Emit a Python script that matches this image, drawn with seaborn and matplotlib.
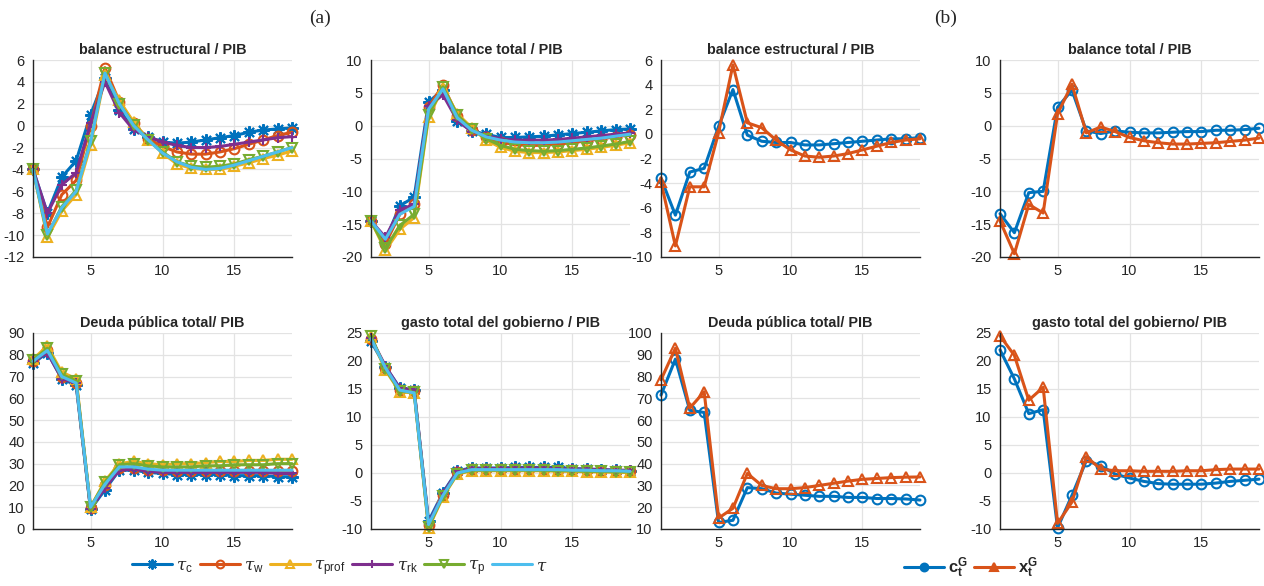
import matplotlib
matplotlib.use("Agg")
import matplotlib.pyplot as plt
import pandas as pd
import seaborn as sns

# ---------------------------------------------------------------- data
periods = list(range(1, 20))

# (a) responses under each tax instrument
be_tc = [-4.0, -8.0, -4.7, -3.2, 1.0, 4.4, 1.4, -0.3, -1.0, -1.5, -1.6, -1.5, -1.3, -1.1, -0.9, -0.6, -0.4, -0.3, -0.2]
be_tw = [-4.0, -9.3, -6.3, -5.0, 0.0, 5.3, 2.2, 0.2, -1.2, -1.9, -2.4, -2.6, -2.6, -2.4, -2.1, -1.7, -1.3, -0.9, -0.6]
be_tprof = [-4.0, -10.2, -7.8, -6.3, -1.8, 4.6, 2.3, 0.3, -1.3, -2.5, -3.5, -3.9, -4.0, -4.0, -3.7, -3.4, -3.0, -2.7, -2.3]
be_trk = [-4.0, -8.0, -5.4, -4.3, 0.2, 4.0, 1.2, -0.4, -1.0, -1.5, -1.8, -2.0, -2.0, -1.9, -1.7, -1.5, -1.3, -1.1, -1.0]
be_tp = [-4.0, -10.0, -7.4, -5.9, -1.4, 4.8, 2.0, 0.1, -1.3, -2.4, -3.3, -3.7, -3.8, -3.7, -3.5, -3.1, -2.8, -2.4, -2.0]
be_t = [-4.0, -9.9, -7.5, -6.0, -1.5, 4.8, 2.0, 0.0, -1.3, -2.5, -3.3, -3.8, -4.0, -3.9, -3.6, -3.2, -2.8, -2.4, -2.0]

bt_tc = [-14.5, -17.5, -12.2, -10.9, 3.6, 5.5, 0.7, -0.8, -1.3, -1.8, -1.8, -1.7, -1.6, -1.4, -1.2, -1.0, -0.8, -0.6, -0.5]
bt_tw = [-14.5, -18.0, -13.5, -12.0, 2.8, 6.2, 1.5, -0.6, -1.8, -2.5, -2.9, -3.0, -3.0, -2.8, -2.6, -2.3, -2.0, -1.7, -1.4]
bt_tprof = [-14.5, -19.0, -15.8, -14.0, 1.3, 5.8, 1.8, -0.3, -2.2, -3.3, -3.9, -4.1, -4.1, -4.0, -3.8, -3.6, -3.3, -3.0, -2.6]
bt_trk = [-14.5, -17.0, -12.8, -12.0, 3.0, 4.7, 0.8, -0.9, -1.5, -2.0, -2.2, -2.2, -2.2, -2.1, -1.9, -1.7, -1.5, -1.3, -1.1]
bt_tp = [-14.5, -18.7, -15.2, -13.5, 1.6, 5.9, 1.6, -0.5, -2.0, -3.0, -3.6, -3.8, -3.9, -3.8, -3.6, -3.4, -3.1, -2.8, -2.4]
bt_t = [-14.5, -17.3, -13.5, -12.3, 2.5, 5.6, 1.2, -0.7, -1.7, -2.2, -2.5, -2.6, -2.6, -2.5, -2.3, -2.1, -1.9, -1.6, -1.3]

dp_tc = [76.0, 81.0, 69.0, 66.0, 9.0, 18.0, 27.0, 27.0, 26.0, 25.5, 25.0, 25.0, 25.0, 25.0, 24.5, 24.5, 24.5, 24.0, 24.0]
dp_tw = [77.0, 82.0, 70.0, 67.0, 9.5, 20.0, 28.0, 28.0, 27.0, 27.0, 26.5, 26.5, 26.5, 26.5, 26.5, 26.5, 26.5, 26.5, 26.5]
dp_tprof = [78.0, 84.0, 72.0, 69.0, 10.0, 22.0, 30.0, 31.0, 30.0, 29.5, 30.0, 30.0, 30.5, 31.0, 31.0, 31.5, 31.5, 32.0, 32.0]
dp_trk = [77.0, 81.0, 69.0, 67.0, 9.0, 19.0, 27.0, 27.5, 26.5, 26.0, 26.0, 26.0, 26.0, 26.0, 26.0, 26.0, 26.0, 25.5, 25.5]
dp_tp = [77.5, 83.0, 71.0, 68.0, 10.0, 21.5, 29.5, 30.0, 29.0, 28.5, 28.5, 28.5, 29.0, 29.0, 29.5, 29.5, 29.5, 30.0, 30.0]
dp_t = [77.0, 82.0, 70.0, 67.0, 10.0, 20.5, 28.5, 28.5, 27.5, 27.0, 27.0, 27.0, 27.0, 27.0, 27.0, 27.0, 27.0, 27.0, 27.0]

gt_tc = [23.5, 19.0, 15.2, 14.8, -8.6, -3.5, 0.4, 0.9, 0.9, 0.9, 1.0, 1.0, 1.0, 1.0, 0.8, 0.7, 0.6, 0.5, 0.4]
gt_tw = [24.0, 18.8, 14.9, 14.6, -9.3, -3.9, 0.2, 0.7, 0.7, 0.7, 0.7, 0.7, 0.7, 0.6, 0.5, 0.5, 0.4, 0.4, 0.3]
gt_tprof = [24.3, 18.4, 14.5, 14.3, -9.8, -4.3, -0.2, 0.4, 0.4, 0.4, 0.4, 0.4, 0.4, 0.3, 0.3, 0.2, 0.2, 0.1, 0.1]
gt_trk = [24.1, 19.1, 15.1, 14.9, -9.0, -3.7, 0.3, 0.8, 0.8, 0.8, 0.9, 0.9, 0.9, 0.8, 0.7, 0.7, 0.6, 0.5, 0.5]
gt_tp = [24.4, 18.6, 14.6, 14.4, -9.6, -4.1, -0.1, 0.5, 0.5, 0.5, 0.5, 0.5, 0.5, 0.4, 0.4, 0.3, 0.3, 0.2, 0.2]
gt_t = [24.0, 18.8, 14.8, 14.3, -9.2, -4.0, 0.0, 0.6, 0.6, 0.6, 0.6, 0.6, 0.6, 0.6, 0.5, 0.5, 0.4, 0.4, 0.3]

# (b) responses under government consumption and investment
be_c = [-3.6, -6.6, -3.1, -2.8, 0.6, 3.6, -0.1, -0.6, -0.7, -0.7, -0.9, -0.9, -0.8, -0.7, -0.6, -0.5, -0.4, -0.4, -0.3]
be_x = [-3.9, -9.1, -4.3, -4.3, 0.1, 5.6, 0.9, 0.5, -0.5, -1.3, -1.8, -1.9, -1.8, -1.6, -1.3, -1.0, -0.7, -0.5, -0.4]

bt_c = [-13.4, -16.3, -10.2, -10.0, 2.8, 5.4, -0.8, -1.2, -0.8, -1.0, -1.1, -1.1, -1.0, -0.9, -0.9, -0.7, -0.7, -0.6, -0.4]
bt_x = [-14.5, -19.5, -12.0, -13.3, 1.8, 6.3, -1.1, -0.2, -0.9, -1.8, -2.3, -2.6, -2.8, -2.8, -2.7, -2.6, -2.4, -2.2, -1.9]

dp_c = [71.5, 88.0, 64.5, 63.5, 13.0, 14.0, 29.0, 28.5, 26.5, 26.0, 25.5, 25.0, 25.0, 24.5, 24.5, 24.0, 24.0, 23.8, 23.3]
dp_x = [78.5, 93.0, 65.5, 73.0, 15.0, 19.5, 35.5, 30.0, 28.5, 28.5, 29.0, 30.0, 31.0, 32.0, 32.8, 33.2, 33.6, 33.8, 33.9]

gt_c = [22.0, 16.8, 10.6, 11.3, -9.8, -4.0, 2.2, 1.3, -0.2, -0.9, -1.5, -1.9, -2.0, -2.0, -2.0, -1.8, -1.5, -1.3, -1.1]
gt_x = [24.5, 21.0, 13.0, 15.3, -9.0, -5.2, 2.9, 0.7, 0.4, 0.4, 0.3, 0.3, 0.3, 0.4, 0.4, 0.6, 0.7, 0.7, 0.7]

labels_a = [r"$\tau_{\rm c}$", r"$\tau_{\rm w}$", r"$\tau_{\rm prof}$",
            r"$\tau_{\rm rk}$", r"$\tau_{\rm p}$", r"$\tau$"]
labels_b = [r"$\mathbf{c_t^G}$", r"$\mathbf{x_t^G}$"]

titles = ["balance estructural / PIB", "balance total / PIB",
          "Deuda pública total/ PIB", "gasto total del gobierno / PIB"]
titles_b = ["balance estructural / PIB", "balance total / PIB",
            "Deuda pública total/ PIB", "gasto total del gobierno/ PIB"]

# ---------------------------------------------------------------- style
sns.set_theme(style="whitegrid")
plt.rcParams.update({
    "font.family": ["Liberation Sans", "DejaVu Sans"],
    "mathtext.fontset": "custom",
    "mathtext.rm": "Liberation Sans",
    "mathtext.bf": "Liberation Sans:bold",
    "mathtext.it": "DejaVu Serif:italic",
    "axes.edgecolor": "#262626",
    "axes.linewidth": 1.0,
    "grid.color": "#e3e3e3",
    "grid.linewidth": 0.9,
    "xtick.color": "#262626",
    "ytick.color": "#262626",
    "xtick.labelsize": 10.5,
    "ytick.labelsize": 10.5,
})

ASTERISK = (8, 2, 0)
colors_a = ["#0072BD", "#D95319", "#EDB120", "#7E2F8E", "#77AC30", "#4DBEEE"]
markers_a = [ASTERISK, "o", "^", "+", "v", None]
colors_b = ["#0072BD", "#D95319"]
markers_b = ["o", "^"]

W, H = 1264, 586
fig = plt.figure(figsize=(W / 100, H / 100), dpi=100)

lefts = [33, 371, 661, 1000]
axw = 259
rows = [(60, 257), (333, 529)]


def make_ax(col, row):
    top, bot = rows[row]
    return fig.add_axes([lefts[col] / W, 1 - bot / H, axw / W, (bot - top) / H])


def style_ax(ax, title, ylim, ystep):
    ax.set_xlim(1, 19)
    ax.set_ylim(*ylim)
    ax.set_xticks([5, 10, 15])
    ticks = list(range(ylim[0], ylim[1] + 1, ystep))
    ax.set_yticks(ticks)
    ax.set_yticklabels([str(t) for t in ticks])
    ax.set_xlabel("")
    ax.set_ylabel("")
    ax.set_title(title, fontsize=10.4, fontweight="bold", pad=4)
    for s in ["top", "right"]:
        ax.spines[s].set_visible(False)
    ax.tick_params(axis="y", direction="in", length=3, width=0.8, pad=6)
    ax.tick_params(axis="x", direction="in", length=3, width=0.8, pad=5)
    ax.grid(True)
    ax.set_axisbelow(True)
    if ax.get_legend() is not None:
        ax.get_legend().remove()


def draw(ax, series, colors, markers, labels):
    for vals, c, m, lab in zip(series, colors, markers, labels):
        df = pd.DataFrame({"t": periods, "v": vals})
        if m is None:
            kw = {}
        else:
            kw = dict(marker=m, markersize=9 if m == ASTERISK else 7,
                      markeredgewidth=1.5, markeredgecolor=c)
            if m in ("o", "^", "v"):
                kw["markerfacecolor"] = "none"
        sns.lineplot(data=df, x="t", y="v", ax=ax, color=c, linewidth=2.2,
                     label=lab, clip_on=False, **kw)


panels_a = [
    ([be_tc, be_tw, be_tprof, be_trk, be_tp, be_t], titles[0], (-12, 6), 2),
    ([bt_tc, bt_tw, bt_tprof, bt_trk, bt_tp, bt_t], titles[1], (-20, 10), 5),
    ([dp_tc, dp_tw, dp_tprof, dp_trk, dp_tp, dp_t], titles[2], (0, 90), 10),
    ([gt_tc, gt_tw, gt_tprof, gt_trk, gt_tp, gt_t], titles[3], (-10, 25), 5),
]
panels_b = [
    ([be_c, be_x], titles_b[0], (-10, 6), 2),
    ([bt_c, bt_x], titles_b[1], (-20, 10), 5),
    ([dp_c, dp_x], titles_b[2], (10, 100), 10),
    ([gt_c, gt_x], titles_b[3], (-10, 25), 5),
]

handles_a = handles_b = None
for i, (series, title, ylim, step) in enumerate(panels_a):
    ax = make_ax(i % 2, i // 2)
    draw(ax, series, colors_a, markers_a, labels_a)
    if handles_a is None:
        handles_a, _ = ax.get_legend_handles_labels()
    style_ax(ax, title, ylim, step)

for i, (series, title, ylim, step) in enumerate(panels_b):
    ax = make_ax(2 + i % 2, i // 2)
    draw(ax, series, colors_b, markers_b, labels_b)
    if handles_b is None:
        handles_b, _ = ax.get_legend_handles_labels()
    style_ax(ax, title, ylim, step)

leg_kw = dict(loc="center", frameon=False, fontsize=12, handlelength=2.4,
              handletextpad=0.25, columnspacing=0.4, markerscale=0.8)
leg_a = fig.legend(handles_a, labels_a, ncol=6,
                   bbox_to_anchor=(340 / W, 1 - 568 / H), **leg_kw)
leg_b = fig.legend(handles_b, labels_b, ncol=2,
                   bbox_to_anchor=(971 / W, 1 - 568 / H), **leg_kw)
for ln in leg_b.get_lines():
    ln.set_markerfacecolor(ln.get_color())

fig.text(320 / W, 1 - 18 / H, "(a)", ha="center", va="center",
         family="Liberation Serif", fontsize=14)
fig.text(946 / W, 1 - 18 / H, "(b)", ha="center", va="center",
         family="Liberation Serif", fontsize=14)

fig.savefig("out.png", dpi=100)
